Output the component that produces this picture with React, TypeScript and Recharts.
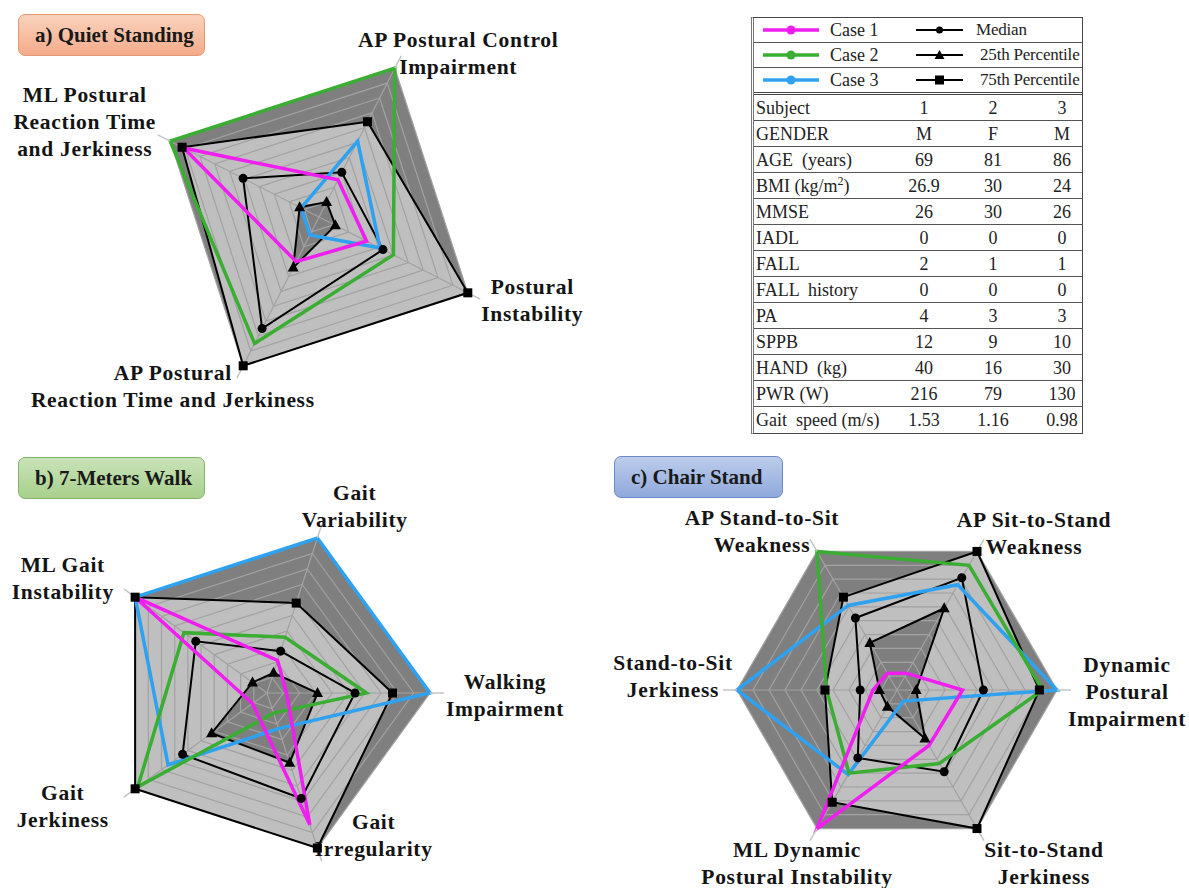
import React from "react";
import {
  RadarChart,
  Radar,
  PolarGrid,
  PolarAngleAxis,
  PolarRadiusAxis,
} from "recharts";

const SERIF = '"Liberation Serif", "Times New Roman", serif';
const MAGENTA = "#f01ef0";
const GREEN = "#3aad33";
const BLUE = "#2ea2f0";
const DARK = "#7f7f7f";
const LIGHT = "#bfbfbf";

const scaleMax = 10;

// a) Quiet Standing
const axesA = [
  "AP Postural Control\nImpairment",
  "Postural\nInstability",
  "AP Postural\nReaction Time and Jerkiness",
  "ML Postural\nReaction Time\nand Jerkiness",
];
const case1A = [2.5, 3.2, 3.0, 9.1];
const case2A = [10, 5.0, 8.5, 10];
const case3A = [5.1, 4.1, 1.2, 1.2];
const medianA = [3.0, 4.3, 7.5, 5.1];
const p25A = [1.0, 1.1, 3.4, 1.3];
const p75A = [6.4, 10, 10, 9.2];

// b) 7-Meters Walk
const axesB = [
  "Gait\nVariability",
  "Walking\nImpairment",
  "Gait\nIrregularity",
  "Gait\nJerkiness",
  "ML Gait\nInstability",
];
const case1B = [2.1, 1.2, 8.5, 1.1, 10];
const case2B = [3.6, 6.1, 1.3, 9.8, 6.3];
const case3B = [10, 10, 2.3, 7.5, 10];
const medianB = [2.7, 5.4, 6.8, 6.4, 5.4];
const p25B = [1.3, 3.1, 4.5, 4.2, 1.1];
const p75B = [5.8, 7.7, 10, 10, 10];

// c) Chair Stand
const axesC = [
  "AP Sit-to-Stand\nWeakness",
  "Dynamic\nPostural\nImpairment",
  "Sit-to-Stand\nJerkiness",
  "ML Dynamic\nPostural Instability",
  "Stand-to-Sit\nJerkiness",
  "AP Stand-to-Sit\nWeakness",
];
const case1C = [1.2, 4.1, 4.0, 10, 1.5, 1.2];
const case2C = [9.0, 9.1, 5.3, 6.0, 4.4, 10];
const case3C = [7.6, 10, 0.8, 6.1, 10, 6.1];
const medianC = [8.1, 5.4, 5.9, 4.9, 2.3, 5.2];
const p25C = [5.9, 1.2, 3.5, 1.2, 1.1, 3.4];
const p75C = [10, 8.9, 10, 8.1, 4.5, 6.7];

// subject table
const caseNames = ["Case 1", "Case 2", "Case 3"];
const refNames = ["Median", " 25th Percentile", " 75th Percentile"];
const tableRows = [
  ["Subject", "1", "2", "3"],
  ["GENDER", "M", "F", "M"],
  ["AGE  (years)", "69", "81", "86"],
  ["BMI (kg/m^2)", "26.9", "30", "24"],
  ["MMSE", "26", "30", "26"],
  ["IADL", "0", "0", "0"],
  ["FALL", "2", "1", "1"],
  ["FALL  history", "0", "0", "0"],
  ["PA", "4", "3", "3"],
  ["SPPB", "12", "9", "10"],
  ["HAND  (kg)", "40", "16", "30"],
  ["PWR (W)", "216", "79", "130"],
  ["Gait  speed (m/s)", "1.53", "1.16", "0.98"],
];

const buildRows = (
  axes: string[],
  c1: number[],
  c2: number[],
  c3: number[],
  med: number[],
  p25: number[],
  p75: number[],
) =>
  axes.map((axis, i) => ({
    axis,
    full: scaleMax,
    case1: c1[i],
    case2: c2[i],
    case3: c3[i],
    median: med[i],
    p25: p25[i],
    p75: p75[i],
  }));

const dataA = buildRows(axesA, case1A, case2A, case3A, medianA, p25A, p75A);
const dataB = buildRows(axesB, case1B, case2B, case3B, medianB, p25B, p75B);
const dataC = buildRows(axesC, case1C, case2C, case3C, medianC, p25C, p75C);

// label offsets (dx, dy of first baseline) from the tick end point
const offsetsA: Record<string, [number, number]> = {
  [axesA[0]]: [57, -9],
  [axesA[1]]: [52, -5],
  [axesA[2]]: [-64, 2],
  [axesA[3]]: [-73, -33],
};
const offsetsB: Record<string, [number, number]> = {
  [axesB[0]]: [33, -25],
  [axesB[1]]: [61, -4],
  [axesB[2]]: [52, -32],
  [axesB[3]]: [-61, 3],
  [axesB[4]]: [-61, -17],
};
const offsetsC: Record<string, [number, number]> = {
  [axesC[0]]: [50, -12],
  [axesC[1]]: [56, -18],
  [axesC[2]]: [60, 16],
  [axesC[3]]: [-13, 16],
  [axesC[4]]: [-50, -20],
  [axesC[5]]: [-48, -14],
};

const circleDot = (p: any) => (
  <circle key={`c-${p.index}`} cx={p.cx} cy={p.cy} r={4.5} fill="#000" />
);
const triangleDot = (p: any) => (
  <path
    key={`t-${p.index}`}
    d={`M${p.cx},${p.cy - 6}L${p.cx + 5.5},${p.cy + 4}L${p.cx - 5.5},${p.cy + 4}Z`}
    fill="#000"
  />
);
const squareDot = (p: any) => (
  <rect key={`s-${p.index}`} x={p.cx - 4.5} y={p.cy - 4.5} width={9} height={9} fill="#000" />
);

const makeTick = (offsets: Record<string, [number, number]>) => (props: any) => {
  const { x, y, payload } = props;
  const label = String(payload.value);
  const [dx, dy] = offsets[label] ?? [0, 0];
  return (
    <text
      x={x + dx}
      y={y + dy}
      textAnchor="middle"
      fontFamily={SERIF}
      fontWeight="bold"
      fontSize={21.5}
      letterSpacing={0.7}
      fill="#141414"
    >
      {label.split("\n").map((line, i) => (
        <tspan key={i} x={x + dx} dy={i === 0 ? 0 : 27}>
          {line}
        </tspan>
      ))}
    </text>
  );
};

interface SpiderProps {
  data: Array<Record<string, any>>;
  left: number;
  top: number;
  width: number;
  height: number;
  cx: number;
  cy: number;
  radius: number;
  startAngle: number;
  offsets: Record<string, [number, number]>;
}

const layer: React.CSSProperties = { position: "absolute", left: 0, top: 0 };

const Spider: React.FC<SpiderProps> = ({
  data,
  left,
  top,
  width,
  height,
  cx,
  cy,
  radius,
  startAngle,
  offsets,
}) => {
  const common = {
    width,
    height,
    data,
    cx,
    cy,
    outerRadius: radius,
    startAngle,
    endAngle: startAngle - 360,
    margin: { top: 0, right: 0, bottom: 0, left: 0 },
  };
  return (
    <div style={{ position: "absolute", left, top, width, height }}>
      {/* background bands: outside 75th, 25th-75th, below 25th */}
      <div style={layer}>
        <RadarChart {...common}>
          <PolarRadiusAxis domain={[0, scaleMax]} tickCount={11} tick={false} axisLine={false} />
          <PolarAngleAxis dataKey="axis" axisLine={false} tickLine={false} tick={false} />
          <Radar dataKey="full" stroke="none" fill={DARK} fillOpacity={1} isAnimationActive={false} />
          <Radar dataKey="p75" stroke="none" fill={LIGHT} fillOpacity={1} isAnimationActive={false} />
          <Radar dataKey="p25" stroke="none" fill={DARK} fillOpacity={1} isAnimationActive={false} />
        </RadarChart>
      </div>
      {/* grid, labels and series lines on top */}
      <div style={layer}>
        <RadarChart {...common}>
          <PolarRadiusAxis domain={[0, scaleMax]} tickCount={11} tick={false} axisLine={false} />
          <PolarGrid gridType="polygon" stroke="#a2a2a2" strokeWidth={1.2} />
          <PolarAngleAxis
            dataKey="axis"
            axisLine={false}
            tickSize={14}
            tickLine={{ stroke: "#c4c4c4", strokeWidth: 1.5 }}
            tick={makeTick(offsets)}
          />
          <Radar dataKey="p75" stroke="#000" strokeWidth={2} fill="none" fillOpacity={0} dot={squareDot} isAnimationActive={false} />
          <Radar dataKey="median" stroke="#000" strokeWidth={2} fill="none" fillOpacity={0} dot={circleDot} isAnimationActive={false} />
          <Radar dataKey="p25" stroke="#000" strokeWidth={2} fill="none" fillOpacity={0} dot={triangleDot} isAnimationActive={false} />
          <Radar dataKey="case3" stroke={BLUE} strokeWidth={3.5} fill="none" fillOpacity={0} isAnimationActive={false} />
          <Radar dataKey="case2" stroke={GREEN} strokeWidth={3.5} fill="none" fillOpacity={0} isAnimationActive={false} />
          <Radar dataKey="case1" stroke={MAGENTA} strokeWidth={3.5} fill="none" fillOpacity={0} isAnimationActive={false} />
        </RadarChart>
      </div>
    </div>
  );
};

const Header: React.FC<{
  text: string;
  left: number;
  top: number;
  width: number;
  bg: string;
  border: string;
}> = ({ text, left, top, width, bg, border }) => (
  <div
    style={{
      position: "absolute",
      left,
      top,
      width,
      height: 42,
      boxSizing: "border-box",
      background: bg,
      border: `1.5px solid ${border}`,
      borderRadius: 7,
      fontFamily: SERIF,
      fontWeight: "bold",
      fontSize: 21,
      lineHeight: "40px",
      paddingLeft: 16,
      color: "#1a1a1a",
      whiteSpace: "nowrap",
    }}
  >
    {text}
  </div>
);

const LegendIcon: React.FC<{ color: string; width: number; marker: string; stroke: number }> = ({
  color,
  width,
  marker,
  stroke,
}) => {
  const m = width / 2;
  return (
    <svg width={width} height={14} style={{ display: "block" }}>
      <line x1={0} y1={7} x2={width} y2={7} stroke={color} strokeWidth={stroke} />
      {marker === "circle" && <circle cx={m} cy={7} r={stroke > 2 ? 4.5 : 3.5} fill={color} />}
      {marker === "triangle" && <path d={`M${m},2L${m + 5},11L${m - 5},11Z`} fill={color} />}
      {marker === "square" && <rect x={m - 4.5} y={2.5} width={9} height={9} fill={color} />}
    </svg>
  );
};

const renderLabel = (label: string) => {
  const parts = label.split("^");
  if (parts.length === 1) return label;
  const close = parts[1].slice(1);
  return (
    <>
      {parts[0]}
      <sup style={{ fontSize: 12, lineHeight: 0 }}>{parts[1][0]}</sup>
      {close}
    </>
  );
};

const SubjectTable: React.FC = () => {
  const caseColors = [MAGENTA, GREEN, BLUE];
  const markers = ["circle", "triangle", "square"];
  const colCenters = [170, 239, 308];
  return (
    <div
      style={{
        position: "absolute",
        left: 751,
        top: 17,
        width: 332,
        boxSizing: "border-box",
        border: "1px solid #444",
        borderLeft: "3px double #777",
        fontFamily: SERIF,
        fontSize: 18,
        color: "#222",
        overflow: "hidden",
      }}
    >
      {caseNames.map((name, i) => (
        <div
          key={name}
          style={{
            position: "relative",
            height: 24,
            borderBottom: i === 2 ? "3px double #444" : "1px solid #555",
          }}
        >
          <div style={{ position: "absolute", left: 9, top: 5 }}>
            <LegendIcon color={caseColors[i]} width={56} marker="circle" stroke={3.5} />
          </div>
          <span style={{ position: "absolute", left: 76, top: 1, lineHeight: "22px" }}>{name}</span>
          <div style={{ position: "absolute", left: 162, top: 5 }}>
            <LegendIcon color="#000" width={47} marker={markers[i]} stroke={2} />
          </div>
          <span
            style={{
              position: "absolute",
              left: 222,
              top: 1,
              lineHeight: "22px",
              whiteSpace: "pre",
              fontSize: 17,
              letterSpacing: -0.2,
            }}
          >
            {refNames[i]}
          </span>
        </div>
      ))}
      {tableRows.map((row, r) => (
        <div
          key={row[0]}
          style={{
            position: "relative",
            height: 26,
            boxSizing: "border-box",
            borderBottom: r === tableRows.length - 1 ? "none" : "1px solid #555",
          }}
        >
          <span style={{ position: "absolute", left: 2, top: 2, lineHeight: "22px", whiteSpace: "pre" }}>
            {renderLabel(row[0])}
          </span>
          {row.slice(1).map((v, c) => (
            <span
              key={c}
              style={{
                position: "absolute",
                left: colCenters[c] - 30,
                width: 60,
                textAlign: "center",
                top: 2,
                lineHeight: "22px",
              }}
            >
              {v}
            </span>
          ))}
        </div>
      ))}
    </div>
  );
};

export default function App() {
  return (
    <div
      style={{
        position: "absolute",
        left: 0,
        top: 0,
        width: 1189,
        height: 888,
        background: "#fff",
        overflow: "hidden",
      }}
    >
      <Spider data={dataA} left={0} top={0} width={600} height={440} cx={319} cy={217} radius={167} startAngle={63} offsets={offsetsA} />
      <Spider data={dataB} left={0} top={440} width={580} height={448} cx={267} cy={253} radius={163} startAngle={72} offsets={offsetsB} />
      <Spider data={dataC} left={580} top={440} width={609} height={448} cx={317} cy={250} radius={160} startAngle={60} offsets={offsetsC} />
      <Header text="a) Quiet Standing" left={18} top={14} width={187} bg="linear-gradient(#fad3bd, #f4ab8a)" border="#e39a74" />
      <Header text="b) 7-Meters Walk" left={18} top={457} width={187} bg="linear-gradient(#c9e3b8, #a8d08d)" border="#84b36a" />
      <Header text="c) Chair Stand" left={614} top={456} width={169} bg="linear-gradient(#bccdec, #90a9dc)" border="#6d89c5" />
      <SubjectTable />
    </div>
  );
}
